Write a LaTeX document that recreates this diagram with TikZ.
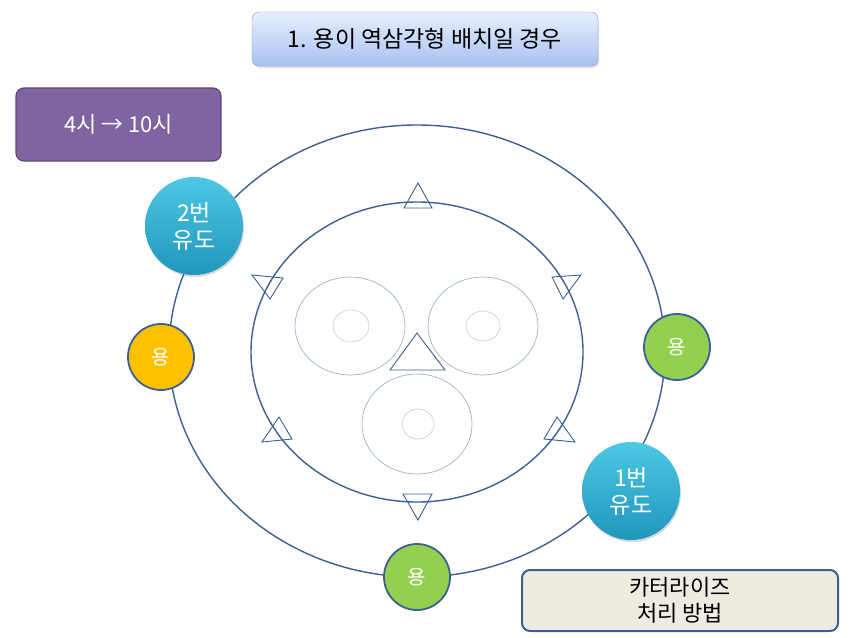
\documentclass[tikz,border=0pt]{standalone}
\usepackage{fontspec}
\setmainfont{Noto Sans CJK KR}
\usetikzlibrary{shadows}
\definecolor{ringblue}{RGB}{60,96,148}
\definecolor{diskline}{RGB}{160,176,204}
\definecolor{diskinner}{RGB}{200,208,226}
\definecolor{titletop}{RGB}{232,239,252}
\definecolor{titlebot}{RGB}{166,194,241}
\definecolor{titleedge}{RGB}{122,160,220}
\definecolor{plum}{RGB}{128,100,162}
\definecolor{plumedge}{RGB}{92,71,118}
\definecolor{guidetop}{RGB}{78,200,228}
\definecolor{guidebot}{RGB}{32,150,188}
\definecolor{dragonorange}{RGB}{255,192,0}
\definecolor{dragongreen}{RGB}{146,208,80}
\definecolor{noteback}{RGB}{238,236,225}

\begin{document}
\begin{tikzpicture}[
    x=1pt, y=-1pt,
    titlebox/.style={rectangle, rounded corners=7pt, draw=titleedge, top color=titletop, bottom color=titlebot,
                     minimum width=346pt, minimum height=54pt, font=\fontsize{23}{27}\selectfont,
                     drop shadow={opacity=0.25, shadow xshift=1pt, shadow yshift=-2pt}},
    timebox/.style={rectangle, rounded corners=8pt, draw=plumedge, line width=1.2pt, fill=plum,
                    minimum width=205pt, minimum height=73pt, text=white, font=\fontsize{22}{26}\selectfont},
    notebox/.style={rectangle, rounded corners=8pt, draw=ringblue, line width=2pt, fill=noteback,
                    minimum width=316pt, minimum height=61pt, align=center, font=\fontsize{22}{26}\selectfont},
    guide/.style={circle, top color=guidetop, bottom color=guidebot, draw=none, minimum size=98pt,
                  align=center, text=white, font=\fontsize{23}{27}\selectfont,
                  drop shadow={opacity=0.3, shadow xshift=1pt, shadow yshift=-2pt}},
    dragon/.style={circle, draw=ringblue, line width=1.8pt, minimum size=66pt, text=white,
                   font=\fontsize{20}{22}\selectfont},
    ring/.style={draw=ringblue, line width=1.4pt},
    disk/.style={draw=diskline, line width=0.7pt},
    hole/.style={draw=diskinner, line width=0.7pt},
    tri/.style={draw=ringblue, line width=0.9pt, line join=miter},
]
\useasboundingbox (0,0) rectangle (850,637);

% Rings
\draw[ring] (417,351) ellipse [x radius=248, y radius=226];
\draw[ring] (417,352) ellipse [x radius=166, y radius=150];

% Disks
\draw[disk] (350,326) ellipse [x radius=55, y radius=49];
\draw[hole] (351,326) ellipse [x radius=18, y radius=16];
\draw[disk] (483,326) ellipse [x radius=55, y radius=49];
\draw[hole] (483,326) ellipse [x radius=17, y radius=15];
\draw[disk] (417,424) ellipse [x radius=55, y radius=50];
\draw[hole] (418,424) ellipse [x radius=16, y radius=15];

% Triangles
\draw[tri] (390,370) -- (417,333) -- (445,370) -- cycle;
\draw[tri] (404,208) -- (418,183) -- (432,208) -- cycle;
\draw[tri] (403,494) -- (432,494) -- (418,520) -- cycle;
\draw[tri] (252,275) -- (283,278) -- (270,299) -- cycle;
\draw[tri] (552,277) -- (581,275) -- (563,299) -- cycle;
\draw[tri] (262,442) -- (279,417) -- (292,439) -- cycle;
\draw[tri] (544,439) -- (557,417) -- (575,442) -- cycle;

% Boxes
\node[titlebox] (title) at (425,39) {1. 용이 역삼각형 배치일 경우};
\node[timebox] (time) at (118.5,124.5) {4시 → 10시};
\node[notebox] (note) at (680,600.5) {카터라이즈\\처리 방법};

% Guides and dragons
\node[guide] (guide2) at (194,226) {2번\\유도};
\node[guide] (guide1) at (631,491) {1번\\유도};
\node[dragon, fill=dragonorange] (dragonL) at (161,357) {용};
\node[dragon, fill=dragongreen] (dragonR) at (677,347) {용};
\node[dragon, fill=dragongreen] (dragonB) at (417,577) {용};
\end{tikzpicture}
\end{document}
